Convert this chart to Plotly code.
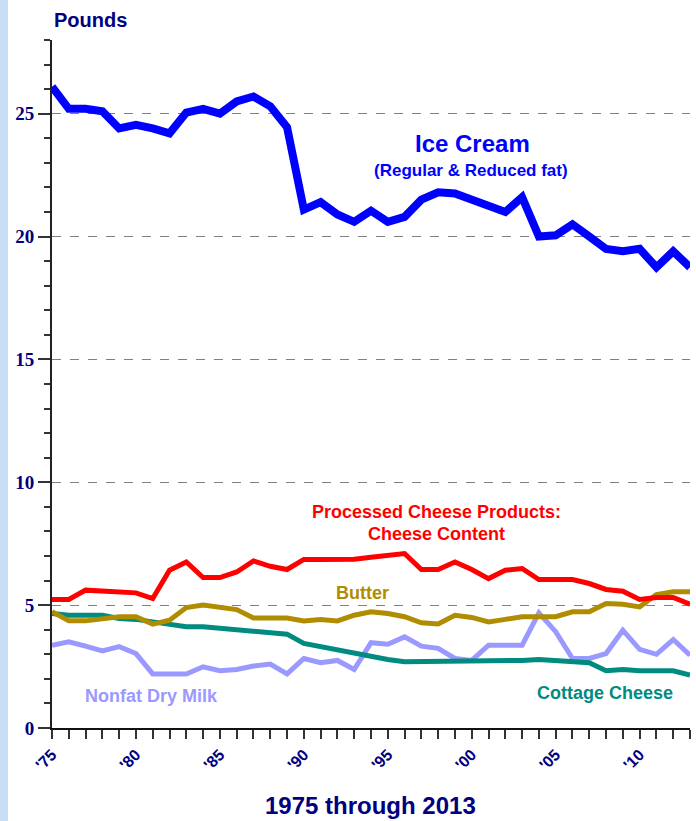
import plotly.graph_objects as go

years = list(range(1975, 2014))

ice_cream = [26.1, 25.2, 25.2, 25.1, 24.4, 24.55, 24.4, 24.2, 25.05, 25.2,
             25.0, 25.5, 25.7, 25.3, 24.45, 21.1, 21.4, 20.9, 20.6, 21.05,
             20.6, 20.8, 21.5, 21.8, 21.75, 21.5, 21.3, 21.0, 21.6, 20.0,
             20.05, 20.5, 20.0, 19.5, 19.4, 19.5, 18.75, 19.4, 18.75]

processed_cheese = [5.23, 5.23, 5.61, 5.58, 5.5, 5.5, 5.27, 6.42, 6.76, 6.12,
                    6.12, 6.35, 6.8, 6.58, 6.45, 6.86, 6.86, 6.86, 6.87, 6.95,
                    7.03, 7.1, 6.45, 6.45, 6.76, 6.45, 6.08, 6.42, 6.49, 6.04,
                    6.04, 6.04, 5.88, 5.64, 5.57, 5.23, 5.31, 5.31, 5.04]

butter = [4.73, 4.36, 4.36, 4.42, 4.53, 4.53, 4.23, 4.39, 4.9, 5.0,
          4.93, 4.82, 4.48, 4.48, 4.48, 4.36, 4.42, 4.36, 4.59, 4.73,
          4.66, 4.53, 4.28, 4.23, 4.59, 4.5, 4.32, 4.42, 4.53, 4.53,
          4.53, 4.73, 4.73, 5.07, 5.04, 4.93, 5.43, 5.54, 5.54]

cottage_cheese = [4.66, 4.59, 4.59, 4.59, 4.46, 4.42, 4.32, 4.23, 4.12, 4.12,
                  4.05, 3.98, 3.95, 3.87, 3.82, 3.44, 3.31, 3.2, 3.05, 2.9,
                  2.79, 2.7, 2.7, 2.7, 2.7, 2.7, 2.7, 2.7, 2.75, 2.79,
                  2.75, 2.66, 2.66, 2.33, 2.38, 2.33, 2.33, 2.33, 2.15]

nonfat_dry_milk = [3.37, 3.51, 3.33, 3.14, 3.31, 3.03, 2.2, 2.2, 2.2, 2.49,
                   2.33, 2.38, 2.52, 2.6, 2.2, 2.83, 2.66, 2.75, 2.38, 3.47,
                   3.41, 3.71, 3.33, 3.24, 2.83, 2.75, 3.37, 3.37, 3.37, 4.69,
                   3.92, 2.83, 2.83, 3.03, 3.98, 3.2, 3.0, 3.6, 2.96]

tick_years = [1975, 1980, 1985, 1990, 1995, 2000, 2005, 2010]
tick_text = ["'75", "'80", "'85", "'90", "'95", "'00", "'05", "'10"]

W, H = 696, 821
L, R, T, B = 52, 6, 40, 93
PW, PH = W - L - R, H - T - B
NAVY = "#000080"


def px(x):
    return (x - L) / PW


def py(y):
    return (H - B - y) / PH


fig = go.Figure()

series = [
    (nonfat_dry_milk, "#9999FF", 5),
    (cottage_cheese, "#008B80", 5),
    (butter, "#B08C00", 5),
    (processed_cheese, "#FF0000", 5),
    (ice_cream, "#0000FF", 8),
]
for vals, col, w in series:
    fig.add_trace(go.Scatter(x=years, y=vals, mode="lines",
                             line=dict(color=col, width=w), hoverinfo="skip"))

# left textured strip of the slide background
fig.add_shape(type="rect", xref="paper", yref="paper",
              x0=px(0), x1=px(8), y0=py(H), y1=py(0),
              fillcolor="#C9DDF7", line_width=0, layer="below")

labels = [
    ("Pounds", 52, 20, 20, NAVY, "left"),
    ("Ice Cream", 472, 143, 24, "#0000FF", "center"),
    ("(Regular &amp; Reduced fat)", 471, 170, 17, "#0000FF", "center"),
    ("Processed Cheese Products:", 436, 512, 18, "#FF0000", "center"),
    ("Cheese Content", 436, 534, 18, "#FF0000", "center"),
    ("Butter", 362, 593, 18, "#B08C00", "center"),
    ("Nonfat Dry Milk", 151, 696, 18, "#9999FF", "center"),
    ("Cottage Cheese", 605, 693, 18, "#008B80", "center"),
    ("1975 through 2013", 370, 805, 24, NAVY, "center"),
]
for txt, x, y, sz, col, anc in labels:
    fig.add_annotation(text="<b>" + txt + "</b>", xref="paper", yref="paper",
                       x=px(x), y=py(y), xanchor=anc, yanchor="middle",
                       showarrow=False,
                       font=dict(family="Liberation Sans, Arial", size=sz, color=col))

fig.update_xaxes(range=[1975, 2013], tickvals=tick_years, ticktext=tick_text,
                 tickangle=-45, ticks="outside", ticklen=9, tickwidth=1.5,
                 tickcolor="#333333", showline=True, linecolor="#111111",
                 linewidth=2, showgrid=False, zeroline=False,
                 minor=dict(dtick=1, tick0=1975, ticks="outside", ticklen=9,
                            tickwidth=1.5, tickcolor="#333333", showgrid=False),
                 tickfont=dict(family="Liberation Sans, Arial", size=16, color=NAVY,
                               weight="bold"))

fig.update_yaxes(range=[0, 28], tickvals=[0, 5, 10, 15, 20, 25], ticks="outside",
                 ticklen=12, tickwidth=1.5, tickcolor="#333333", showline=True,
                 linecolor="#222222", linewidth=2, showgrid=True,
                 gridcolor="#808080", griddash="dash", gridwidth=1, zeroline=False,
                 minor=dict(dtick=1, ticks="outside", ticklen=6, tickwidth=1.5,
                            tickcolor="#333333", showgrid=False),
                 tickfont=dict(family="Liberation Serif, Times New Roman", size=19,
                               color=NAVY, weight="bold"))

fig.update_layout(width=W, height=H, margin=dict(l=L, r=R, t=T, b=B),
                  paper_bgcolor="white", plot_bgcolor="white", showlegend=False)

fig.write_html("out.html", config={"displayModeBar": False},
               post_script="document.body.style.margin='0';")
